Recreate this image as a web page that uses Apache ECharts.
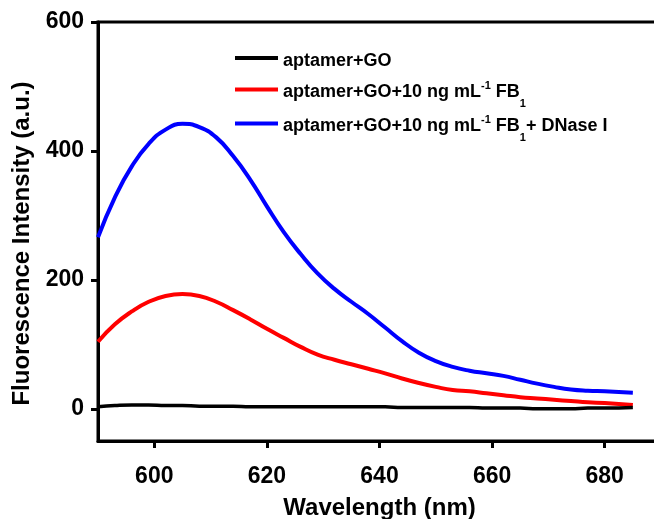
<!DOCTYPE html>
<html>
<head>
<meta charset="utf-8">
<script src="https://cdn.jsdelivr.net/npm/echarts@6/dist/echarts.min.js"></script>
<style>
  html, body { margin: 0; padding: 0; background: #fff; }
  #main { width: 654px; height: 519px; }
</style>
</head>
<body>
<div id="main"></div>
<script>
// wavelengths (nm)
var wavelengths = [590, 593, 596, 599, 602, 605, 608, 611, 614, 617, 620, 623, 626, 629, 632, 635,
  638, 641, 644, 647, 650, 653, 656, 659, 662, 665, 668, 671, 674, 677, 680, 685];

var goValues = [3, 5, 6, 6, 5, 5, 4, 4, 4, 3, 3, 3, 3, 3, 3, 3,
  3, 3, 2, 2, 2, 2, 2, 1, 1, 1, 0, 0, 0, 1, 1, 2];

var fbValues = [104, 131, 151, 166, 175, 178, 175, 166, 153, 139, 124, 110, 96, 84, 76, 69,
  62, 55, 47, 40, 34, 29, 27, 24, 21, 18, 16, 14, 12, 10, 9, 6];

var dnaseValues = [266, 328, 376, 411, 433, 442, 437, 421, 392, 356, 314, 274, 240, 210, 186, 166,
  147, 126, 105, 87, 74, 65, 59, 55, 51, 45, 39, 34, 30, 28, 27, 25];

var xTicks = [600, 620, 640, 660, 680];
var yTicks = [0, 200, 400, 600];

var names = [
  "aptamer+GO",
  "aptamer+GO+10 ng mL-1 FB1",
  "aptamer+GO+10 ng mL-1 FB1+ DNase I"
];
var colors = ["#000000", "#ff0000", "#0000ff"];

function pairs(vals) {
  return wavelengths.map(function (w, i) { return [w, vals[i]]; });
}

var font = "Liberation Sans, Arial, sans-serif";

var legendText = {
  fontFamily: font,
  color: "#000",
  rich: {
    a: { fontSize: 18, fontWeight: "bold", fontFamily: font, lineHeight: 36, verticalAlign: "middle", padding: [6, 0, 0, 0] },
    sup: { fontSize: 11, fontWeight: "bold", fontFamily: font, lineHeight: 11, verticalAlign: "middle", padding: [0, 0, 8, 0] },
    sub: { fontSize: 11, fontWeight: "bold", fontFamily: font, lineHeight: 11, verticalAlign: "middle", padding: [28, 0, 0, 0] }
  }
};

function legendLabel(name) {
  if (name === names[0]) return "{a|aptamer+GO}";
  if (name === names[1]) return "{a|aptamer+GO+10 ng mL}{sup|-1}{a| FB}{sub|1}";
  return "{a|aptamer+GO+10 ng mL}{sup|-1}{a| FB}{sub|1}{a|+ DNase I}";
}

function makeLegend(i, top) {
  return {
    data: [names[i]],
    left: 235,
    top: top,
    padding: 0,
    icon: "rect",
    itemWidth: 43,
    itemHeight: 4,
    itemGap: 5,
    selectedMode: false,
    formatter: legendLabel,
    textStyle: legendText
  };
}

var option = {
  animation: false,
  grid: {
    left: 98,
    top: 22,
    width: 563,
    height: 419,
    outerBoundsMode: "none",
    show: true,
    borderColor: "#000",
    borderWidth: 3
  },
  legend: [makeLegend(0, 46), makeLegend(1, 70), makeLegend(2, 104)],
  xAxis: {
    type: "value",
    min: 590,
    max: 690,
    name: "Wavelength (nm)",
    nameLocation: "middle",
    nameGap: 55,
    nameTextStyle: { fontFamily: font, fontSize: 24, fontWeight: "bold", color: "#000" },
    axisLine: { onZero: false, lineStyle: { color: "#000", width: 3 } },
    axisTick: { customValues: xTicks, length: 7, lineStyle: { color: "#000", width: 3 } },
    axisLabel: { customValues: xTicks, margin: 24, fontFamily: font, fontSize: 23, fontWeight: "bold", color: "#000" },
    splitLine: { show: false }
  },
  yAxis: {
    type: "value",
    min: -50,
    max: 600,
    name: "Fluorescence Intensity (a.u.)",
    nameLocation: "middle",
    nameGap: 64,
    nameTextStyle: { fontFamily: font, fontSize: 24, fontWeight: "bold", color: "#000", padding: [0, 24, 0, 0] },
    axisLine: { onZero: false, lineStyle: { color: "#000", width: 3 } },
    axisTick: { customValues: yTicks, length: 7, lineStyle: { color: "#000", width: 3 } },
    axisLabel: { customValues: yTicks, margin: 14, fontFamily: font, fontSize: 23, fontWeight: "bold", color: "#000" },
    splitLine: { show: false }
  },
  series: [goValues, fbValues, dnaseValues].map(function (vals, i) {
    return {
      name: names[i],
      type: "line",
      smooth: 0.5,
      showSymbol: false,
      color: colors[i],
      lineStyle: { color: colors[i], width: i === 0 ? 3.5 : 4 },
      data: pairs(vals),
      z: 3 - i
    };
  })
};

var chart = echarts.init(document.getElementById("main"));
chart.setOption(option);
</script>
</body>
</html>
